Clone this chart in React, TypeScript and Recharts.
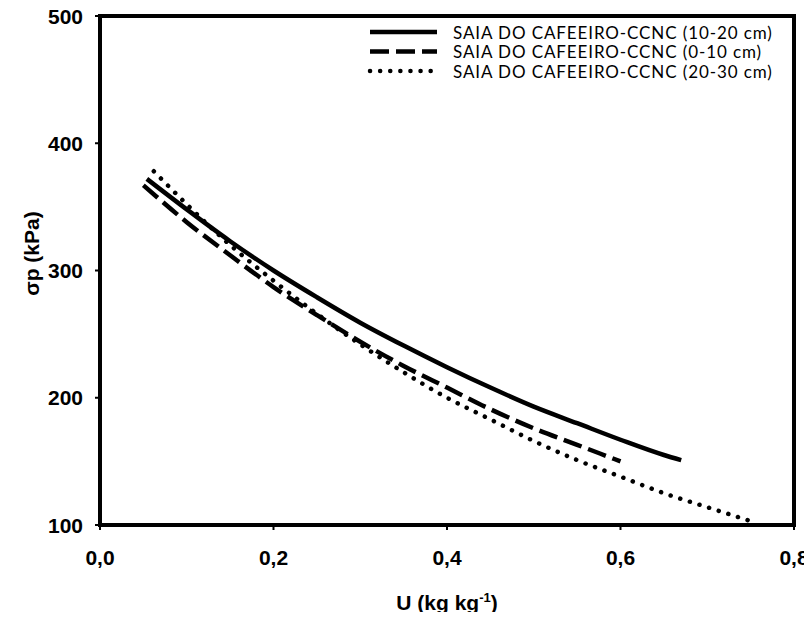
import React from 'react';
import {
  LineChart,
  Line,
  XAxis,
  YAxis,
  ReferenceArea,
  Label
} from 'recharts';

// values (U in kg/kg, σp in kPa)
const moisture1020 = [0.054, 0.1, 0.15, 0.2, 0.25, 0.3, 0.35, 0.4, 0.45, 0.5, 0.55, 0.6, 0.65, 0.67];
const stress1020 = [372, 348, 323, 300, 279, 259, 241, 224, 208, 193, 180, 167, 155, 151];

const moisture010 = [0.05, 0.1, 0.15, 0.2, 0.25, 0.3, 0.35, 0.4, 0.45, 0.5, 0.55, 0.6];
const stress010 = [367, 338, 312, 287, 265, 244, 225, 208, 191, 176, 163, 150];

const moisture2030 = [0.062, 0.1, 0.15, 0.2, 0.25, 0.3, 0.35, 0.4, 0.45, 0.5, 0.55, 0.6, 0.65, 0.7, 0.755];
const stress2030 = [378, 352, 320, 292, 266, 242, 220, 200, 183, 166, 151, 138, 125, 114, 102];

const xTicks = [0, 0.2, 0.4, 0.6, 0.8];
const yTicks = [100, 200, 300, 400, 500];

const toPoints = (xs: number[], ys: number[]) => xs.map((x, i) => ({ u: x, sp: ys[i] }));

const series = [
  { name: 'SAIA DO CAFEEIRO-CCNC (10-20 cm)', data: toPoints(moisture1020, stress1020), dash: undefined, cap: 'butt' },
  { name: 'SAIA DO CAFEEIRO-CCNC (0-10 cm)', data: toPoints(moisture010, stress010), dash: '19 7', cap: 'butt' },
  { name: 'SAIA DO CAFEEIRO-CCNC (20-30 cm)', data: toPoints(moisture2030, stress2030), dash: '0.1 10', cap: 'round' }
];

const boldFont = { fontFamily: 'Liberation Sans, Arial, sans-serif', fontWeight: 700, fill: '#000' };

const XTick = (props: any) => {
  const { x, y, payload } = props;
  return (
    <text x={x} y={y + 15} textAnchor="middle" style={{ ...boldFont, fontSize: 21 }}>
      {Number(payload.value).toFixed(1).replace('.', ',')}
    </text>
  );
};

const YTick = (props: any) => {
  const { x, y, payload } = props;
  return (
    <text x={x} y={y + 7.5} textAnchor="end" style={{ ...boldFont, fontSize: 21 }}>
      {payload.value}
    </text>
  );
};

const YTitle = (props: any) => {
  const vb = props.viewBox || { x: 0, y: 0, width: 0, height: 0 };
  const cx = vb.x - 9;
  const cy = vb.y + vb.height / 2 - 17;
  return (
    <text
      x={cx}
      y={cy}
      transform={`rotate(-90 ${cx} ${cy})`}
      textAnchor="middle"
      dominantBaseline="central"
      style={{ ...boldFont, fontSize: 21 }}
    >
      σp (kPa)
    </text>
  );
};

const XTitle = (props: any) => {
  const vb = props.viewBox || { x: 0, y: 0, width: 0, height: 0 };
  const cx = vb.x + vb.width / 2;
  return (
    <text x={cx} y={vb.y + 85} textAnchor="middle" style={{ ...boldFont, fontSize: 21 }}>
      U (kg kg
      <tspan fontSize={13} dy={-8}>-1</tspan>
      <tspan dy={8}>)</tspan>
    </text>
  );
};

export default function App() {
  return (
    <div style={{ position: 'relative', width: 812, height: 620, margin: -8 }}>
      <LineChart width={812} height={620} margin={{ top: 16, right: 18, bottom: 45, left: 40 }}>
        <XAxis
          type="number"
          dataKey="u"
          domain={[0, 0.8]}
          ticks={xTicks}
          axisLine={false}
          tickLine={{ stroke: '#000', strokeWidth: 2 }}
          tickSize={5}
          tickMargin={20}
          tick={<XTick />}
          height={50}
          allowDataOverflow
        >
          <Label content={<XTitle />} />
        </XAxis>
        <YAxis
          type="number"
          dataKey="sp"
          domain={[100, 500]}
          ticks={yTicks}
          axisLine={false}
          tickLine={{ stroke: '#000', strokeWidth: 2 }}
          tickSize={5}
          tickMargin={12}
          tick={<YTick />}
          width={60}
          allowDataOverflow
        >
          <Label content={<YTitle />} />
        </YAxis>
        {series.map((s) => (
          <Line
            key={s.name}
            data={s.data}
            dataKey="sp"
            type="monotone"
            stroke="#000"
            strokeWidth={4.5}
            strokeDasharray={s.dash}
            strokeLinecap={s.cap as any}
            dot={false}
            activeDot={false}
            isAnimationActive={false}
          />
        ))}
        <ReferenceArea
          x1={0}
          x2={0.8}
          y1={100}
          y2={500}
          fill="none"
          fillOpacity={0}
          stroke="#000"
          strokeWidth={4}
          ifOverflow="visible"
        />
      </LineChart>
      <svg
        width={440}
        height={80}
        style={{ position: 'absolute', left: 364, top: 14, overflow: 'visible' }}
      >
        {series.map((s, i) => (
          <g key={s.name} transform={`translate(0 ${18 + i * 19.5})`}>
            <line
              x1={6}
              x2={73}
              y1={0}
              y2={0}
              stroke="#000"
              strokeWidth={4.5}
              strokeDasharray={s.dash}
              strokeLinecap={s.cap as any}
            />
            <text
              x={89}
              y={0}
              dominantBaseline="central"
              style={{ fontFamily: 'Lato, sans-serif', fontSize: 17, letterSpacing: 0.9, fill: '#000' }}
            >
              {s.name}
            </text>
          </g>
        ))}
      </svg>
    </div>
  );
}
